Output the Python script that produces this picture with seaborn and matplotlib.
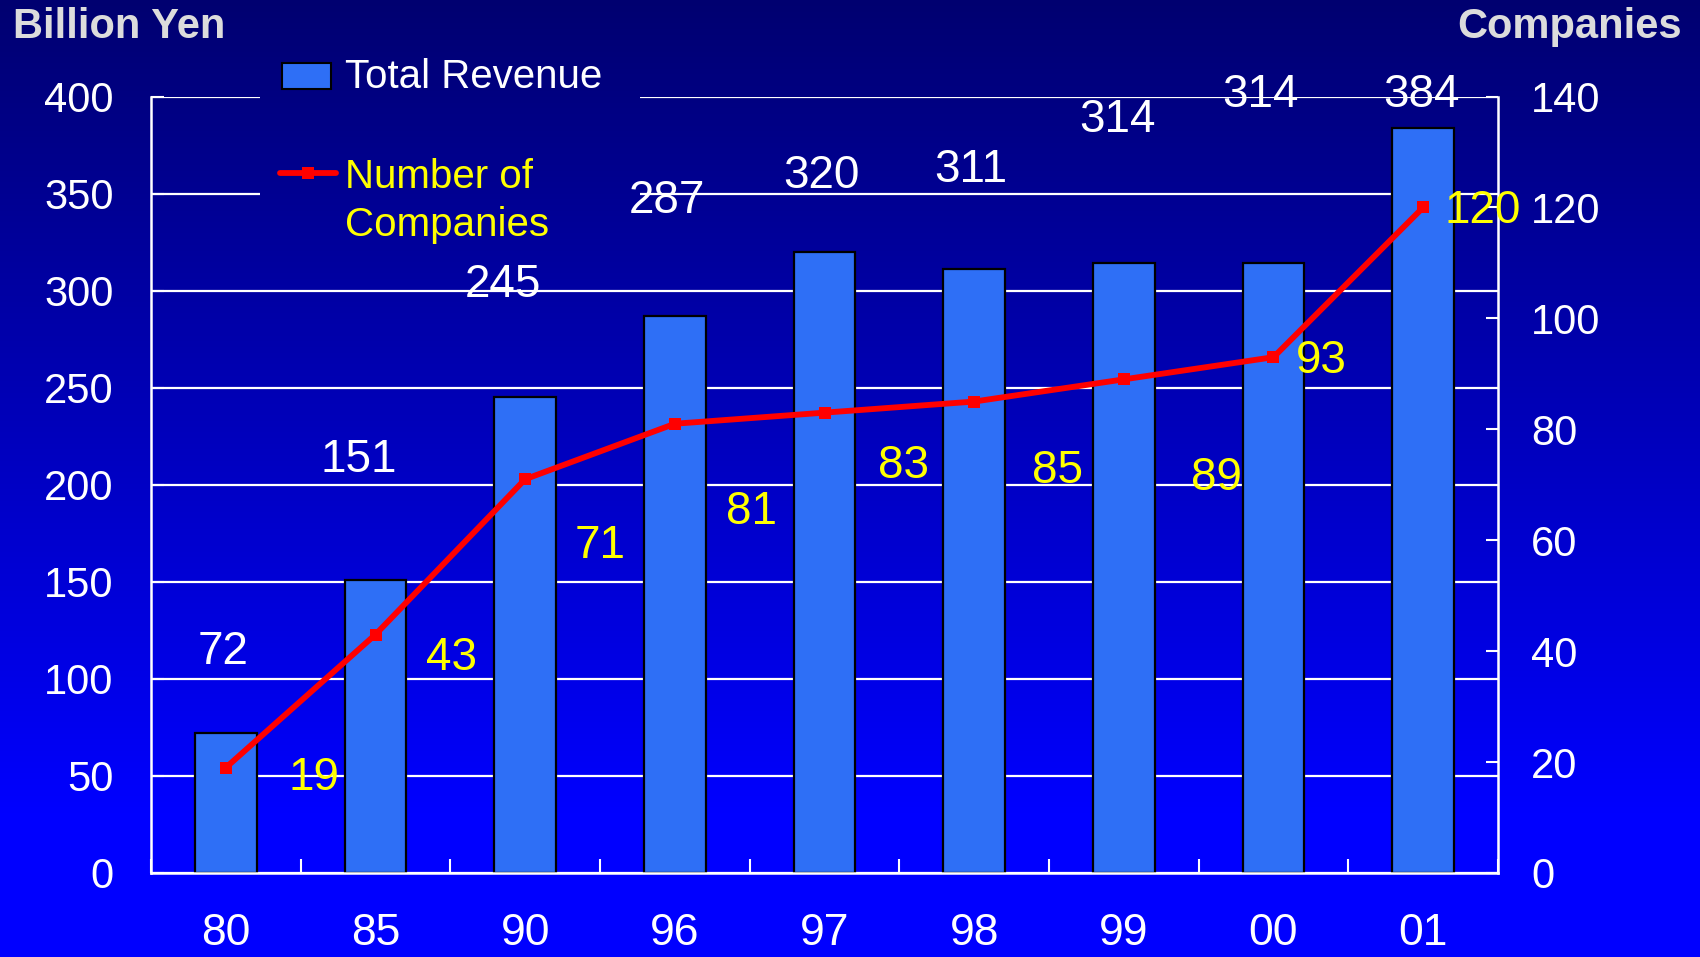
# -*- coding: utf-8 -*-
"""Total revenue (bars, left axis) and number of companies (line, right axis)."""

import matplotlib
matplotlib.use('Agg')
import matplotlib.pyplot as plt
from matplotlib.patches import Rectangle
from matplotlib.lines import Line2D
import numpy as np
import pandas as pd
import seaborn as sns

# Data
years = ['80', '85', '90', '96', '97', '98', '99', '00', '01']
revenue = [72, 151, 245, 287, 320, 311, 314, 314, 384]          # billion yen
companies = [19, 43, 71, 81, 83, 85, 89, 93, 120]               # count

# Label placement (category offset, value on own axis)
rev_label_dx = [-0.02, -0.11, -0.15, -0.05, -0.02, -0.02, -0.04, -0.09, -0.01]
rev_label_y = [114, 213, 303, 346, 359, 362, 388, 401, 401]
comp_label_dx = [0.59, 0.51, 0.50, 0.51, 0.53, 0.56, 0.62, 0.32, 0.40]
comp_label_y = [17.2, 38.7, 59, 65.1, 73.3, 72.5, 71.2, 92.3, 119.3]

BAR_COLOR = '#2E6FF6'
LINE_COLOR = '#FF0000'
W, H = 1700, 957

sns.set_style('ticks')
plt.rcParams['font.family'] = ['Liberation Sans', 'DejaVu Sans']


def gradient_rgb(n_rows=H):
    # dark navy at top fading to pure blue near the bottom
    t = np.clip(np.linspace(0, 1, n_rows) / 0.85, 0, 1)
    b = (112 + 143 * t) / 255.0
    img = np.zeros((n_rows, 2, 3))
    img[:, :, 2] = b[:, None]
    return img


fig = plt.figure(figsize=(W / 100, H / 100), dpi=100)
grad = gradient_rgb()

bg = fig.add_axes([0, 0, 1, 1], zorder=-10)
bg.imshow(grad, aspect='auto', extent=(0, 1, 0, 1))
bg.axis('off')

ax = fig.add_axes([151 / W, 1 - 873 / H, 1347 / W, 776.5 / H])
ax.set_facecolor('none')
ax.set_zorder(0)

df = pd.DataFrame({'year': years, 'revenue': revenue, 'companies': companies})
sns.barplot(data=df, x='year', y='revenue', ax=ax, color=BAR_COLOR, saturation=1,
            width=0.41, edgecolor='black', linewidth=1.6, zorder=2)

ax.set_xlim(-0.5, len(years) - 0.5)
ax.set_ylim(0, 400)
ax.set_yticks(range(0, 401, 50))
ax.set_xlabel('')
ax.set_ylabel('')
ax.set_axisbelow(True)
ax.grid(axis='y', color='white', linewidth=1.6)
ax.grid(axis='x', visible=False)
for side in ['top', 'right']:
    ax.spines[side].set_visible(False)
for side in ['left', 'bottom']:
    ax.spines[side].set_color('white')
    ax.spines[side].set_linewidth(1.8)
ax.tick_params(axis='y', direction='in', length=9, width=1.5, colors='white',
               labelsize=30, pad=27)
ax.tick_params(axis='x', which='major', length=0, colors='white', labelsize=32, pad=29)
ax.set_xticks(np.arange(-0.5, len(years)), minor=True)
ax.tick_params(axis='x', which='minor', direction='in', length=10, width=1.5, color='white')

# gradient patch behind the legend hides the gridlines there
cover = fig.add_axes([260 / W, 1 - 244 / H, 380 / W, 194 / H])
cover.set_zorder(0.5)
cover.imshow(grad, aspect='auto', extent=(0, 1, 0, 1), transform=fig.transFigure)
cover.axis('off')

ax2 = ax.twinx()
ax2.set_zorder(1)
ax2.patch.set_visible(False)
x_pos = np.arange(len(years))
sns.lineplot(x=x_pos, y=companies, ax=ax2, color=LINE_COLOR, linewidth=4.2,
             marker='s', markersize=9, markeredgewidth=0, zorder=5)
ax2.set_ylim(0, 140)
ax2.set_yticks(range(0, 141, 20))
ax2.set_xlim(-0.5, len(years) - 0.5)
ax2.grid(False)
for side in ['top', 'left', 'bottom']:
    ax2.spines[side].set_visible(False)
ax2.spines['right'].set_color('white')
ax2.spines['right'].set_linewidth(1.8)
ax2.tick_params(axis='y', direction='in', length=9, width=1.5, colors='white',
                labelsize=30, pad=24)

# value labels
for i, v in enumerate(revenue):
    ax2.text(i + rev_label_dx[i], rev_label_y[i], f'{v}', transform=ax.transData,
             ha='center', va='center', color='white', fontsize=33, zorder=6)
for i, v in enumerate(companies):
    ax2.text(i + comp_label_dx[i], comp_label_y[i], f'{v}',
             ha='center', va='center', color='#FFFF00', fontsize=33, zorder=6)

# hand-made legend
fig.add_artist(Rectangle((282 / W, 1 - 89 / H), 49 / W, 26 / H, transform=fig.transFigure,
                         facecolor=BAR_COLOR, edgecolor='black', linewidth=1.5))
fig.text(345 / W, 1 - 77 / H, 'Total Revenue', color='white', fontsize=29,
         ha='left', va='center')
fig.add_artist(Line2D([280 / W, 336 / W], [1 - 173 / H, 1 - 173 / H],
                      transform=fig.transFigure, color=LINE_COLOR, linewidth=4.2))
fig.add_artist(Line2D([308 / W], [1 - 173 / H], transform=fig.transFigure,
                      marker='s', markersize=9, color=LINE_COLOR, markeredgewidth=0))
fig.text(345 / W, 1 - 201 / H, 'Number of\nCompanies', color='#FFFF00', fontsize=29,
         ha='left', va='center', linespacing=1.35)

# axis titles
fig.text(13 / W, 1 - 27 / H, 'Billion Yen', color='#DCDCDC', fontsize=30,
         fontweight='bold', ha='left', va='center')
fig.text(1682 / W, 1 - 27 / H, 'Companies', color='#DCDCDC', fontsize=30,
         fontweight='bold', ha='right', va='center')

fig.savefig('out.png', dpi=100)
plt.close(fig)
